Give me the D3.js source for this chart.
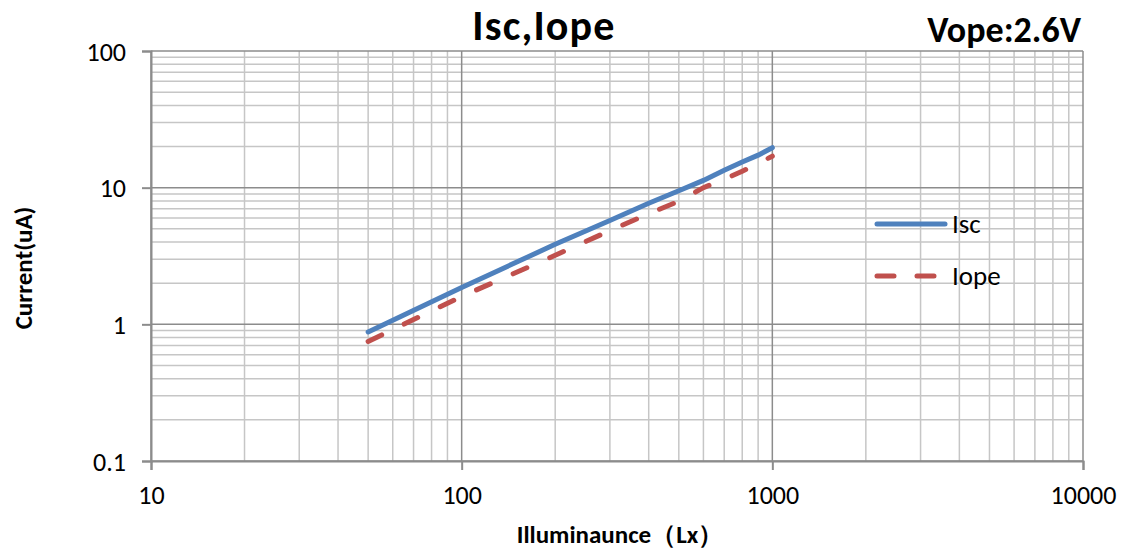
<!DOCTYPE html>
<html>
<head>
<meta charset="utf-8">
<script src="https://d3js.org/d3.v7.min.js"></script>
<style>
  body { margin: 0; background: #fff; }
  text { font-family: Carlito, Lato, "Liberation Sans", sans-serif; }
</style>
</head>
<body>
<div id="chart"></div>
<script>
// lux values where the curves were sampled
const lux = [50, 100, 200, 300, 400, 500, 600, 700, 800, 900, 1000];
const isc = [0.88, 1.86, 3.85, 5.75, 7.7, 9.5, 11.3, 13.4, 15.4, 17.3, 19.6];
const iope = [0.75, 1.6, 3.2, 4.85, 6.45, 7.95, 10.0, 11.5, 13.2, 15.0, 17.0];

const xTicks = [10, 100, 1000, 10000];
const yTicks = [0.1, 1, 10, 100];

const width = 1122;
const height = 553;
const margin = { left: 151, right: 39, top: 51, bottom: 92 };

const svg = d3
  .select("#chart")
  .append("svg")
  .attr("width", width)
  .attr("height", height);

const x = d3
  .scaleLog()
  .domain([10, 10000])
  .range([margin.left, width - margin.right]);
const y = d3
  .scaleLog()
  .domain([0.1, 100])
  .range([height - margin.bottom, margin.top]);

// minor values 2..9 in each decade
const minorX = [];
xTicks.slice(0, -1).forEach((d) => {
  for (let k = 2; k < 10; k++) minorX.push(d * k);
});
const minorY = [];
yTicks.slice(0, -1).forEach((d) => {
  for (let k = 2; k < 10; k++) minorY.push(d * k);
});

const grid = svg.append("g");
grid
  .selectAll(".mx")
  .data(minorX)
  .enter()
  .append("line")
  .attr("x1", (d) => x(d))
  .attr("x2", (d) => x(d))
  .attr("y1", y(0.1))
  .attr("y2", y(100))
  .attr("stroke", "#c6c6c6")
  .attr("stroke-width", 1.5);
grid
  .selectAll(".my")
  .data(minorY)
  .enter()
  .append("line")
  .attr("x1", x(10))
  .attr("x2", x(10000))
  .attr("y1", (d) => y(d))
  .attr("y2", (d) => y(d))
  .attr("stroke", "#c6c6c6")
  .attr("stroke-width", 1.5);
grid
  .selectAll(".Mx")
  .data(xTicks)
  .enter()
  .append("line")
  .attr("x1", (d) => x(d))
  .attr("x2", (d) => x(d))
  .attr("y1", y(0.1))
  .attr("y2", y(100))
  .attr("stroke", "#8c8c8c")
  .attr("stroke-width", 1.5);
grid
  .selectAll(".My")
  .data(yTicks)
  .enter()
  .append("line")
  .attr("x1", x(10))
  .attr("x2", x(10000))
  .attr("y1", (d) => y(d))
  .attr("y2", (d) => y(d))
  .attr("stroke", "#8c8c8c")
  .attr("stroke-width", 1.5);

// axes
const xAxis = svg
  .append("g")
  .attr("transform", `translate(0,${y(0.1)})`)
  .call(d3.axisBottom(x).tickValues(xTicks).tickFormat(d3.format("d")).tickSize(9).tickPadding(16));
const yAxis = svg
  .append("g")
  .attr("transform", `translate(${x(10)},0)`)
  .call(d3.axisLeft(y).tickValues(yTicks).tickFormat((d) => String(d)).tickSize(9).tickPadding(16));

[xAxis, yAxis].forEach((a) => {
  a.select(".domain").attr("stroke", "#8c8c8c").attr("stroke-width", 2);
  a.selectAll(".tick line").attr("stroke", "#8c8c8c").attr("stroke-width", 2);
  a.selectAll(".tick text")
    .attr("fill", "#000")
    .style("font-size", "26px")
    .style("font-family", "Carlito, Lato, 'Liberation Sans', sans-serif");
});
yAxis.selectAll(".tick text").attr("dy", "0.35em");

// series
const line = d3
  .line()
  .x((d) => x(d[0]))
  .y((d) => y(d[1]));

svg
  .append("path")
  .datum(d3.zip(lux, iope))
  .attr("d", line)
  .attr("fill", "none")
  .attr("stroke", "#C0504D")
  .attr("stroke-width", 5)
  .attr("stroke-linecap", "round")
  .attr("stroke-dasharray", "15 25");

svg
  .append("path")
  .datum(d3.zip(lux, isc))
  .attr("d", line)
  .attr("fill", "none")
  .attr("stroke", "#4F81BD")
  .attr("stroke-width", 5)
  .attr("stroke-linecap", "round");

// legend
const legend = svg.append("g");
legend
  .append("line")
  .attr("x1", 877)
  .attr("x2", 945)
  .attr("y1", 224)
  .attr("y2", 224)
  .attr("stroke", "#4F81BD")
  .attr("stroke-width", 5)
  .attr("stroke-linecap", "round");
legend
  .append("line")
  .attr("x1", 877)
  .attr("x2", 934)
  .attr("y1", 276)
  .attr("y2", 276)
  .attr("stroke", "#C0504D")
  .attr("stroke-width", 5)
  .attr("stroke-linecap", "round")
  .attr("stroke-dasharray", "17 23");
legend.append("text").attr("x", 952).attr("y", 233).style("font-size", "27px").text("Isc");
legend.append("text").attr("x", 952).attr("y", 285).style("font-size", "27px").text("Iope");

// titles
svg
  .append("text")
  .attr("x", 544)
  .attr("y", 40)
  .attr("text-anchor", "middle")
  .style("font-size", "42px")
  .style("letter-spacing", "1.2px")
  .style("font-weight", "bold")
  .text("Isc,Iope");
svg
  .append("text")
  .attr("x", 1081)
  .attr("y", 42)
  .attr("text-anchor", "end")
  .style("font-size", "36px")
  .style("font-weight", "bold")
  .text("Vope:2.6V");
svg
  .append("text")
  .attr("x", 620)
  .attr("y", 543)
  .attr("text-anchor", "middle")
  .style("font-size", "25px")
  .style("font-weight", "bold")
  .text("Illuminaunce（Lx）");
svg
  .append("text")
  .attr("transform", "translate(32,268) rotate(-90)")
  .attr("text-anchor", "middle")
  .style("font-size", "25px")
  .style("font-weight", "bold")
  .text("Current(uA)");
</script>
</body>
</html>
